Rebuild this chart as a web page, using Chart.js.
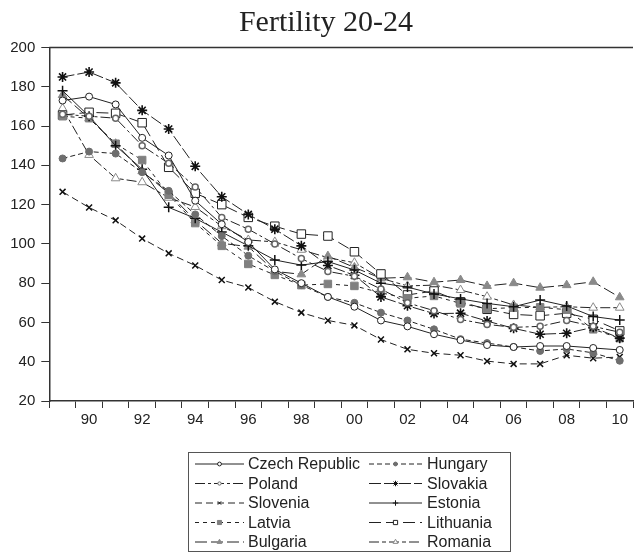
<!DOCTYPE html>
<html>
<head>
<meta charset="utf-8">
<title>Fertility 20-24</title>
<script src="https://cdn.jsdelivr.net/npm/chart.js@4"></script>
<style>
  html, body { margin: 0; padding: 0; background: #fff; }
  #wrap { width: 640px; height: 553px; }
</style>
</head>
<body>
<div id="wrap"><canvas id="fertility"></canvas></div>
<script>
// ===== Dados: taxa de fecundidade 20-24, 1989-2010 =====
const anos = [1989, 1990, 1991, 1992, 1993, 1994, 1995, 1996, 1997, 1998, 1999,
              2000, 2001, 2002, 2003, 2004, 2005, 2006, 2007, 2008, 2009, 2010];

const czech     = [173, 175, 171, 154, 145, 122, 110, 101, 87, 80, 73, 68, 61, 58, 54, 51, 48.5, 47.5, 48, 48, 47, 46];
const hungary   = [143.5, 147, 146, 136.5, 127, 115, 104, 94, 86, 79, 73, 70, 65, 61, 56.5, 51.5, 49.5, 47.5, 45.5, 46.5, 44.5, 40.5];
const poland    = [166, 165, 164, 150, 141, 129, 113.5, 107.5, 100, 92.5, 86, 83.5, 77, 70, 66, 61.5, 59, 57.5, 58, 61, 58, 55];
const slovakia  = [185, 187.5, 182, 168, 158.5, 139.5, 124, 115, 107.5, 99, 89, 84, 73, 68.5, 64.5, 64.7, 60.7, 57, 54, 54.5, 57.5, 52];
const slovenia  = [126.5, 118.5, 112, 102.7, 95.2, 89, 81.6, 77.8, 70.6, 65, 61, 58.5, 51.3, 46.3, 44.3, 43.3, 40.3, 38.9, 38.9, 43.3, 41.8, 42.4];
const estonia   = [178, 165, 150, 138, 118.6, 113, 106, 99, 91.8, 89.2, 91, 86.7, 80, 78, 74.5, 72, 69.7, 68, 71.4, 68.4, 63, 61.2];
const latvia    = [165, 164, 151, 142.7, 125, 110.6, 99, 89.8, 84.2, 79, 79.6, 78.6, 75.1, 72.3, 73.5, 69.7, 67, 67.5, 67.7, 66.5, 56.5, 52];
const lithuania = [165.6, 167, 166.5, 161.7, 139, 125.8, 120, 113.5, 109, 105, 104, 96, 84.7, 74, 76, 70.5, 66.7, 64.1, 63.4, 64.7, 61.6, 55.7];
const bulgaria  = [175.8, 164, 151, 137, 125.8, 112, 100.3, 98.6, 86, 84.5, 93.8, 88, 82.5, 83, 80.5, 81.6, 78.6, 80, 77.7, 79, 80.7, 72.8];
const romania   = [169, 145.3, 133.4, 131.4, 123.5, 118.8, 109, 102, 101, 97, 93, 90.4, 82.5, 78.6, 79, 76.5, 73.1, 68.9, 67.7, 68, 67.5, 67.5];

const yTicks = [20, 40, 60, 80, 100, 120, 140, 160, 180, 200];

const LINHA = '#222';
const CINZA = '#808080';

// estilo de cada serie (linha + marcador)
function serie(label, data, dash, ponto) {
  return Object.assign({
    label: label,
    data: data,
    borderColor: LINHA,
    borderWidth: 1,
    borderDash: dash,
    tension: 0,
    fill: false,
    pointBorderWidth: 1,
    pointHoverRadius: 4
  }, ponto);
}

const datasets = [
  serie('Czech Republic', czech, [], { pointStyle: 'circle', pointRadius: 3.5, pointBackgroundColor: '#fff', pointBorderColor: '#222' }),
  serie('Hungary', hungary, [5, 3], { pointStyle: 'circle', pointRadius: 3.5, pointBackgroundColor: '#6e6e6e', pointBorderColor: '#6e6e6e' }),
  serie('Poland', poland, [10, 3, 3, 3], { pointStyle: 'circle', pointRadius: 3, pointBackgroundColor: '#fff', pointBorderColor: '#666', pointBorderWidth: 1.5 }),
  serie('Slovakia', slovakia, [12, 3], { pointStyle: 'star', pointRadius: 5, pointBorderColor: '#111', pointBorderWidth: 1.6 }),
  serie('Slovenia', slovenia, [7, 4], { pointStyle: 'crossRot', pointRadius: 4.2, pointBorderColor: '#111', pointBorderWidth: 1.5 }),
  serie('Estonia', estonia, [], { pointStyle: 'cross', pointRadius: 5, pointBorderColor: '#111', pointBorderWidth: 1.5 }),
  serie('Latvia', latvia, [4, 4], { pointStyle: 'rect', pointRadius: 5.3, pointBackgroundColor: CINZA, pointBorderColor: CINZA }),
  serie('Lithuania', lithuania, [12, 5], { pointStyle: 'rect', pointRadius: 6, pointBackgroundColor: '#fff', pointBorderColor: '#222' }),
  serie('Bulgaria', bulgaria, [12, 4], { pointStyle: 'triangle', pointRadius: 5, pointBackgroundColor: '#8a8a8a', pointBorderColor: '#8a8a8a' }),
  serie('Romania', romania, [10, 3, 4, 3], { pointStyle: 'triangle', pointRadius: 5, pointBackgroundColor: '#fff', pointBorderColor: '#8a8a8a' })
];

// titulo e moldura superior
const tituloPlugin = {
  id: 'tituloFertility',
  afterDraw(chart) {
    const { ctx, chartArea } = chart;
    ctx.save();
    ctx.strokeStyle = '#333';
    ctx.lineWidth = 1.5;
    ctx.beginPath();
    ctx.moveTo(chartArea.left, chartArea.top);
    ctx.lineTo(chartArea.right, chartArea.top);
    ctx.stroke();

    ctx.fillStyle = '#222';
    ctx.font = '30px "Liberation Serif", "Times New Roman", serif';
    ctx.textAlign = 'center';
    ctx.textBaseline = 'alphabetic';
    ctx.fillText('Fertility 20-24', 326, 31);
    ctx.restore();
  }
};

// legenda em caixa, duas colunas
const legendaPlugin = {
  id: 'legendaCaixa',
  afterDraw(chart) {
    const { ctx } = chart;
    const box = { x: 188.5, y: 452.5, w: 322, h: 99 };
    const colunas = [
      { x0: 195, x1: 244, tx: 248 },
      { x0: 369, x1: 422, tx: 427 }
    ];
    const linha0 = 464, passo = 19.5;

    ctx.save();
    ctx.strokeStyle = '#555';
    ctx.lineWidth = 1;
    ctx.strokeRect(box.x, box.y, box.w, box.h);

    ctx.font = '16px "Liberation Sans", Arial, sans-serif';
    ctx.textBaseline = 'middle';
    ctx.textAlign = 'left';

    chart.data.datasets.forEach((ds, i) => {
      const col = colunas[i % 2];
      const y = linha0 + Math.floor(i / 2) * passo;

      ctx.strokeStyle = ds.borderColor;
      ctx.lineWidth = 1;
      ctx.setLineDash(ds.borderDash || []);
      ctx.beginPath();
      ctx.moveTo(col.x0, y);
      ctx.lineTo(col.x1, y);
      ctx.stroke();
      ctx.setLineDash([]);

      ctx.fillStyle = ds.pointBackgroundColor || '#fff';
      ctx.strokeStyle = ds.pointBorderColor;
      ctx.lineWidth = 1;
      Chart.helpers.drawPoint(ctx, {
        pointStyle: ds.pointStyle,
        radius: Math.min(3, ds.pointRadius * 0.55),
        rotation: 0,
        borderWidth: 1
      }, (col.x0 + col.x1) / 2, y);

      ctx.fillStyle = '#222';
      ctx.fillText(ds.label, col.tx, y + 1);
    });
    ctx.restore();
  }
};

function desenharGrafico() {
  const ctx = document.getElementById('fertility');

  new Chart(ctx, {
    type: 'line',
    data: { labels: anos.map(String), datasets: datasets },
    options: {
      responsive: true,
      maintainAspectRatio: false,
      animation: false,
      layout: { padding: { top: 47.5, right: 0, bottom: 122, left: 0 } },
      plugins: {
        legend: { display: false },
        title: { display: false },
        tooltip: { enabled: true }
      },
      scales: {
        x: {
          type: 'category',
          offset: true,
          afterFit(scale) { scale.height = 30; },
          border: { display: true, color: '#333', width: 1.5 },
          grid: {
            offset: true,
            drawOnChartArea: false,
            drawTicks: true,
            tickLength: 7,
            color: '#333'
          },
          ticks: {
            autoSkip: false,
            maxRotation: 0,
            padding: 3,
            color: '#222',
            font: { family: '"Liberation Sans", Arial, sans-serif', size: 15 },
            callback: (v, i) => (anos[i] % 2 === 0 ? String(anos[i]).slice(2) : '')
          }
        },
        y: {
          min: yTicks[0],
          max: yTicks[yTicks.length - 1],
          afterFit(scale) { scale.width = 49.3; },
          afterBuildTicks(scale) { scale.ticks = yTicks.map(v => ({ value: v })); },
          border: { display: true, color: '#333', width: 1.5 },
          grid: {
            drawOnChartArea: false,
            drawTicks: true,
            tickLength: 8,
            color: '#333'
          },
          ticks: {
            padding: 6,
            color: '#222',
            font: { family: '"Liberation Sans", Arial, sans-serif', size: 15 }
          }
        }
      }
    },
    plugins: [tituloPlugin, legendaPlugin]
  });
}

desenharGrafico();
</script>
</body>
</html>
